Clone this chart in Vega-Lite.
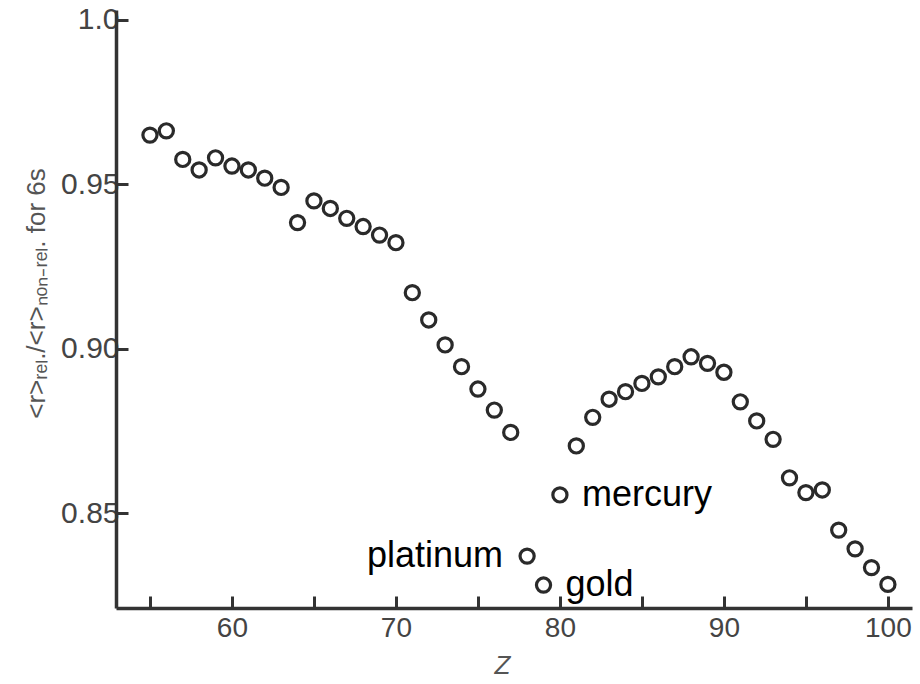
{
  "$schema": "https://vega.github.io/schema/vega-lite/v6.json",
  "width": 796,
  "height": 598,
  "autosize": {"type": "none"},
  "padding": {"left": 116, "top": 10, "right": 8, "bottom": 76},
  "background": "white",
  "config": {
    "view": {"stroke": null},
    "font": "Liberation Sans"
  },
  "datasets": {
    "pts": [
      {"Z": 55, "r": 0.9650}, {"Z": 56, "r": 0.9663}, {"Z": 57, "r": 0.9576}, {"Z": 58, "r": 0.9544},
      {"Z": 59, "r": 0.9581}, {"Z": 60, "r": 0.9556}, {"Z": 61, "r": 0.9544}, {"Z": 62, "r": 0.9519},
      {"Z": 63, "r": 0.9491}, {"Z": 64, "r": 0.9384}, {"Z": 65, "r": 0.9450}, {"Z": 66, "r": 0.9427},
      {"Z": 67, "r": 0.9397}, {"Z": 68, "r": 0.9372}, {"Z": 69, "r": 0.9346}, {"Z": 70, "r": 0.9323},
      {"Z": 71, "r": 0.9171}, {"Z": 72, "r": 0.9088}, {"Z": 73, "r": 0.9012}, {"Z": 74, "r": 0.8946},
      {"Z": 75, "r": 0.8878}, {"Z": 76, "r": 0.8814}, {"Z": 77, "r": 0.8746}, {"Z": 78, "r": 0.8370},
      {"Z": 79, "r": 0.8282}, {"Z": 80, "r": 0.8556}, {"Z": 81, "r": 0.8705}, {"Z": 82, "r": 0.8792},
      {"Z": 83, "r": 0.8847}, {"Z": 84, "r": 0.8870}, {"Z": 85, "r": 0.8895}, {"Z": 86, "r": 0.8915},
      {"Z": 87, "r": 0.8946}, {"Z": 88, "r": 0.8976}, {"Z": 89, "r": 0.8956}, {"Z": 90, "r": 0.8929},
      {"Z": 91, "r": 0.8839}, {"Z": 92, "r": 0.8781}, {"Z": 93, "r": 0.8725}, {"Z": 94, "r": 0.8608},
      {"Z": 95, "r": 0.8563}, {"Z": 96, "r": 0.8571}, {"Z": 97, "r": 0.8449}, {"Z": 98, "r": 0.8392},
      {"Z": 99, "r": 0.8335}, {"Z": 100, "r": 0.8284}
    ],
    "labels": [
      {"Z": 78, "r": 0.8370, "name": "platinum"},
      {"Z": 79, "r": 0.8282, "name": "gold"},
      {"Z": 80, "r": 0.8556, "name": "mercury"}
    ]
  },
  "layer": [
    {
      "data": {"name": "pts"},
      "mark": {"type": "point", "shape": "circle", "filled": false, "size": 200, "strokeWidth": 3.2, "color": "#2a2a2a", "opacity": 1},
      "encoding": {
        "x": {
          "field": "Z", "type": "quantitative",
          "scale": {"domain": [52.93, 101.47], "nice": false, "zero": false},
          "axis": {
            "values": [55, 60, 65, 70, 75, 80, 85, 90, 95, 100],
            "labelExpr": "datum.value % 10 == 0 ? datum.label : ''",
            "grid": false,
            "tickSize": -12, "tickWidth": 3, "tickColor": "#333",
            "domainColor": "#333", "domainWidth": 3.5,
            "labelFontSize": 28, "labelColor": "#444", "labelPadding": 18,
            "labelFont": "Liberation Sans",
            "title": "Z", "titleFontStyle": "italic", "titleFontWeight": "normal",
            "titleFontSize": 26, "titleColor": "#555", "titleFont": "Liberation Sans",
            "titleX": 386, "titleY": 57, "titleBaseline": "middle", "titleAnchor": null
          }
        },
        "y": {
          "field": "r", "type": "quantitative",
          "scale": {"domain": [0.82122, 1.00304], "nice": false, "zero": false},
          "axis": {
            "values": [0.85, 0.9, 0.95, 1.0],
            "labelExpr": "datum.value == 1 ? '1.0' : format(datum.value, '.2f')",
            "grid": false,
            "tickSize": -12, "tickWidth": 3, "tickColor": "#333",
            "domainColor": "#333", "domainWidth": 3.5,
            "labelFontSize": 30, "labelColor": "#444", "labelPadding": 9,
            "labelFont": "Liberation Sans",
            "title": "<r>ᵣₑₗ./<r>ₙₒₙ₋ᵣₑₗ. for 6s",
            "titleFont": "Liberation Sans", "titleFontWeight": "normal",
            "titleFontSize": 26, "titleColor": "#555",
            "titleAngle": -90, "titleX": -80, "titleY": 283,
            "titleAlign": "center", "titleBaseline": "middle"
          }
        }
      }
    },
    {
      "data": {"name": "labels"},
      "transform": [{"filter": "datum.name == 'platinum'"}],
      "mark": {"type": "text", "align": "right", "baseline": "alphabetic", "dx": -24, "dy": 11, "fontSize": 36, "font": "Liberation Sans", "color": "black"},
      "encoding": {
        "x": {"field": "Z", "type": "quantitative"},
        "y": {"field": "r", "type": "quantitative"},
        "text": {"field": "name"}
      }
    },
    {
      "data": {"name": "labels"},
      "transform": [{"filter": "datum.name != 'platinum'"}],
      "mark": {"type": "text", "align": "left", "baseline": "alphabetic", "dx": 22, "dy": 11, "fontSize": 36, "font": "Liberation Sans", "color": "black"},
      "encoding": {
        "x": {"field": "Z", "type": "quantitative"},
        "y": {"field": "r", "type": "quantitative"},
        "text": {"field": "name"}
      }
    }
  ]
}
